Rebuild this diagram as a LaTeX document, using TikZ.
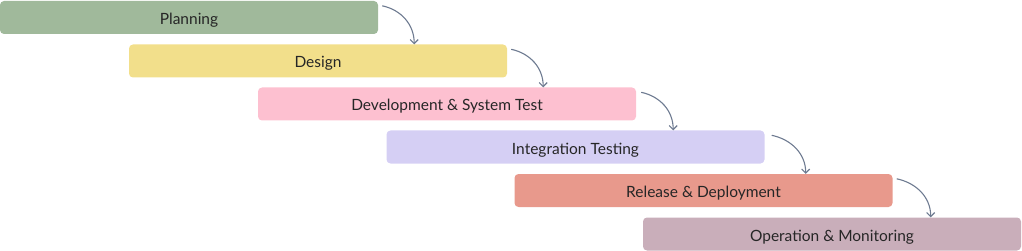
\documentclass[tikz,border=0pt]{standalone}
\usepackage{fontspec}
\setmainfont{Lato}
\usetikzlibrary{arrows.meta}
\definecolor{cPlan}{HTML}{A0B99B}
\definecolor{cDsgn}{HTML}{F2DF8B}
\definecolor{cDev}{HTML}{FDC0D0}
\definecolor{cInt}{HTML}{D5CFF4}
\definecolor{cRel}{HTML}{E8998C}
\definecolor{cOps}{HTML}{C9AEBA}
\definecolor{cArr}{HTML}{6E7B91}
\tikzset{
  ph/.style={rectangle,rounded corners=4pt,draw=none,minimum width=378pt,minimum height=33pt,
    inner sep=0pt,text height=14pt,text depth=0pt,font=\fontsize{15.5}{17}\selectfont,text=black!85},
  flw/.style={-{Straight Barb[length=4pt,width=8pt]},draw=cArr,line width=1.1pt},
}
\begin{document}
\begin{tikzpicture}[x=1pt,y=-1pt]
\useasboundingbox (0,0) rectangle (1022,251);
% ---- phases
\node[ph,fill=cPlan] (plan) at (189,17.5) {Planning};
\node[ph,fill=cDsgn] (dsgn) at (318,61) {Design};
\node[ph,fill=cDev] (dev) at (447,104) {Development \& System Test};
\node[ph,fill=cInt] (intg) at (575.5,147) {Integration Testing};
\node[ph,fill=cRel] (rel) at (703.5,190.5) {Release \& Deployment};
\node[ph,fill=cOps] (ops) at (832,234) {Operation \& Monitoring};
% ---- hand-offs
\draw[flw] ([xshift=4pt,yshift=-5pt]plan.north east) to[out=-12,in=90] ([xshift=36pt]plan.east |- dsgn.north);
\draw[flw] ([xshift=4pt,yshift=-5pt]dsgn.north east) to[out=-12,in=90] ([xshift=36pt]dsgn.east |- dev.north);
\draw[flw] ([xshift=5pt,yshift=-5pt]dev.north east) to[out=-12,in=90] ([xshift=37pt]dev.east |- intg.north);
\draw[flw] ([xshift=7pt,yshift=-5pt]intg.north east) to[out=-12,in=90] ([xshift=41pt]intg.east |- rel.north);
\draw[flw] ([xshift=4pt,yshift=-5pt]rel.north east) to[out=-12,in=90] ([xshift=38pt]rel.east |- ops.north);
\end{tikzpicture}
\end{document}
